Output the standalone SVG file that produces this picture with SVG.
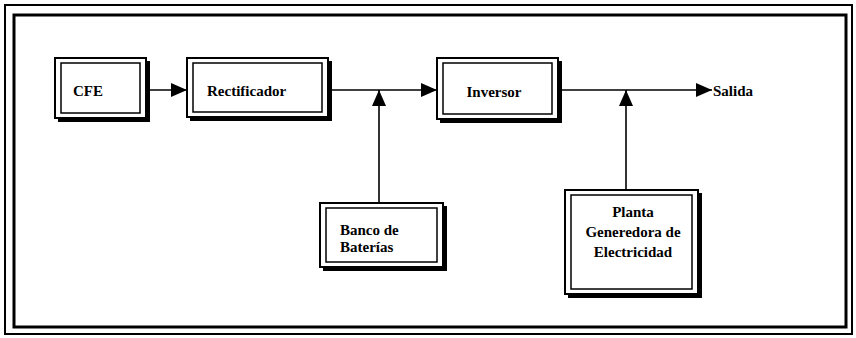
<svg xmlns="http://www.w3.org/2000/svg" width="856" height="338" viewBox="0 0 856 338">
<defs>
<marker id="ah" markerWidth="16" markerHeight="14" refX="16" refY="7" orient="auto" markerUnits="userSpaceOnUse">
<path d="M0,0 L16,7 L0,14 Z" fill="#000"/>
</marker>
</defs>
<style>
.sh{fill:#000}
.ob{fill:#fff;stroke:#000;stroke-width:2}
.ib{fill:none;stroke:#000;stroke-width:1.5}
text{font-family:'Liberation Serif','Times New Roman',serif;font-weight:bold;font-size:15px;fill:#000}
.c{stroke:#000;stroke-width:1.6;fill:none}
</style>
<rect width="856" height="338" fill="#fff"/>
<g id="frame">
<rect x="5" y="5" width="847" height="329" fill="none" stroke="#000" stroke-width="2"/>
<rect x="14" y="15" width="832" height="312" fill="none" stroke="#000" stroke-width="3"/>
</g>
<g id="connectors">
<line class="c" x1="147" y1="90" x2="187" y2="90" marker-end="url(#ah)"/>
<line class="c" x1="328" y1="90" x2="437" y2="90" marker-end="url(#ah)"/>
<line class="c" x1="379" y1="203" x2="379" y2="90" marker-end="url(#ah)"/>
<line class="c" x1="558" y1="90" x2="712" y2="90" marker-end="url(#ah)"/>
<line class="c" x1="626" y1="190" x2="626" y2="90" marker-end="url(#ah)"/>
</g>
<g id="cfe">
<rect class="sh" x="58" y="61" width="92" height="61"/>
<rect class="ob" x="55" y="58" width="91" height="60"/>
<rect class="ib" x="61" y="63" width="79" height="50"/>
<text x="73" y="96">CFE</text>
</g>
<g id="rectificador">
<rect class="sh" x="190" y="61" width="142" height="60"/>
<rect class="ob" x="187" y="58" width="141" height="59"/>
<rect class="ib" x="193" y="63" width="129" height="49"/>
<text x="207" y="96">Rectificador</text>
</g>
<g id="inversor">
<rect class="sh" x="440" y="61" width="122" height="62"/>
<rect class="ob" x="437" y="58" width="121" height="61"/>
<rect class="ib" x="443" y="63" width="109" height="51"/>
<text x="494" y="97" text-anchor="middle">Inversor</text>
</g>
<g id="salida">
<text x="713" y="96">Salida</text>
</g>
<g id="banco">
<rect class="sh" x="323" y="206" width="124" height="65"/>
<rect class="ob" x="320" y="203" width="123" height="64"/>
<rect class="ib" x="326" y="208" width="111" height="54"/>
<text x="340" y="235">Banco de</text>
<text x="340" y="252">Baterías</text>
</g>
<g id="planta">
<rect class="sh" x="568" y="193" width="134" height="105"/>
<rect class="ob" x="565" y="190" width="133" height="104"/>
<rect class="ib" x="571" y="195" width="121" height="94"/>
<text x="633" y="217" text-anchor="middle">Planta</text>
<text x="633" y="237" text-anchor="middle">Generedora de</text>
<text x="633" y="257" text-anchor="middle">Electricidad</text>
</g>
</svg>
